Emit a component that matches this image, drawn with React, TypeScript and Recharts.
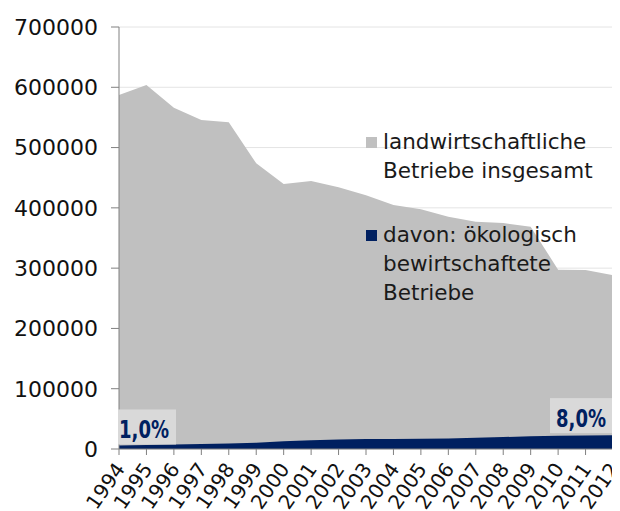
import React from 'react';
import { AreaChart, Area, XAxis, YAxis, CartesianGrid, LabelList } from 'recharts';

const years = ['1994','1995','1996','1997','1998','1999','2000','2001','2002','2003','2004','2005','2006','2007','2008','2009','2010','2011','2012'];
const totalFarms = [587000, 603600, 566000, 545600, 541800, 473800, 439500, 444600, 434000, 421000, 404600, 397500, 385300, 377000, 374800, 368700, 297500, 297000, 288500];
const organicFarms = [5866, 6642, 7353, 8184, 9213, 10425, 12740, 14703, 15626, 16476, 16603, 17020, 17557, 18703, 19813, 21047, 21942, 22506, 23032];
const shareLabels = ['1,0%', '', '', '', '', '', '', '', '', '', '', '', '', '', '', '', '', '', '8,0%'];
const yTicks = [0, 100000, 200000, 300000, 400000, 500000, 600000, 700000];
const legendItems = [
  { name: 'landwirtschaftliche Betriebe insgesamt', lines: ['landwirtschaftliche', 'Betriebe insgesamt'], color: '#c0c0c0' },
  { name: 'davon: ökologisch bewirtschaftete Betriebe', lines: ['davon: ökologisch', 'bewirtschaftete', 'Betriebe'], color: '#002060' },
];

const data = years.map((y, i) => ({ year: y, total: totalFarms[i], organic: organicFarms[i], share: shareLabels[i] }));

const FONT = "'DejaVu Sans', Verdana, sans-serif";
const NAVY = '#002060';

const XTick = (props: any) => {
  const { x, y, payload } = props;
  return (
    <g transform={`translate(${x + 1},${y + 8})`}>
      <text x={0} y={0} transform="rotate(-55)" textAnchor="end" dy="0.35em" fontSize={20} fontFamily={FONT} fill="#111">
        {payload.value}
      </text>
    </g>
  );
};

const ShareLabel = (props: any) => {
  const { x, y, index, value } = props;
  if (!value) return null;
  const last = index === years.length - 1;
  const w = last ? 63 : 58;
  const bx = last ? x - w : x - 1;
  const by = last ? y - 37 : y - 36;
  const tw = 50;
  const tx = last ? x - 7 - tw : x;
  return (
    <g>
      <rect x={bx} y={by} width={w} height={35} fill="#d9d9d9" />
      <text
        x={tx}
        y={last ? y - 8 : y - 7}
        textAnchor="start"
        textLength={tw}
        lengthAdjust="spacingAndGlyphs"
        fontFamily={FONT}
        fontWeight="bold"
        fontSize={25}
        fill={NAVY}
      >
        {value}
      </text>
    </g>
  );
};

export default function App() {
  return (
    <div style={{ position: 'relative', width: 612, height: 503 }}>
      <AreaChart width={612} height={503} data={data} margin={{ top: 19, right: 7, left: 0, bottom: 0 }}>
        <CartesianGrid vertical={false} stroke="#e4e4e4" />
        <XAxis
          dataKey="year"
          interval={0}
          tick={<XTick />}
          tickSize={6}
          height={62}
          axisLine={{ stroke: '#808080' }}
          tickLine={{ stroke: '#808080' }}
        />
        <YAxis
          domain={[0, 700000]}
          ticks={yTicks}
          width={111}
          tickSize={8}
          tickMargin={13}
          interval={0}
          axisLine={{ stroke: '#808080' }}
          tickLine={{ stroke: '#808080' }}
          tick={{ fontSize: 22, fontFamily: FONT, fill: '#111' }}
        />
        <Area
          type="linear"
          dataKey="total"
          name={legendItems[0].name}
          stroke="none"
          fill="#c0c0c0"
          fillOpacity={1}
          isAnimationActive={false}
          dot={false}
          activeDot={false}
        />
        <Area
          type="linear"
          dataKey="organic"
          name={legendItems[1].name}
          stroke="none"
          fill={NAVY}
          fillOpacity={1}
          isAnimationActive={false}
          dot={false}
          activeDot={false}
        >
          <LabelList dataKey="share" content={<ShareLabel />} />
        </Area>
      </AreaChart>
      <div style={{ position: 'absolute', left: 358, top: 119, fontFamily: FONT, fontSize: 21.5, lineHeight: '29px', color: '#1a1a1a' }}>
        {legendItems.map((item, i) => (
          <div key={item.name} style={{ position: 'relative', paddingLeft: 17, marginTop: i === 0 ? 0 : 35, whiteSpace: 'nowrap' }}>
            <span style={{ position: 'absolute', left: 0, top: 10, width: 11, height: 11, background: item.color }} />
            {item.lines.map((l) => (
              <div key={l}>{l}</div>
            ))}
          </div>
        ))}
      </div>
    </div>
  );
}
